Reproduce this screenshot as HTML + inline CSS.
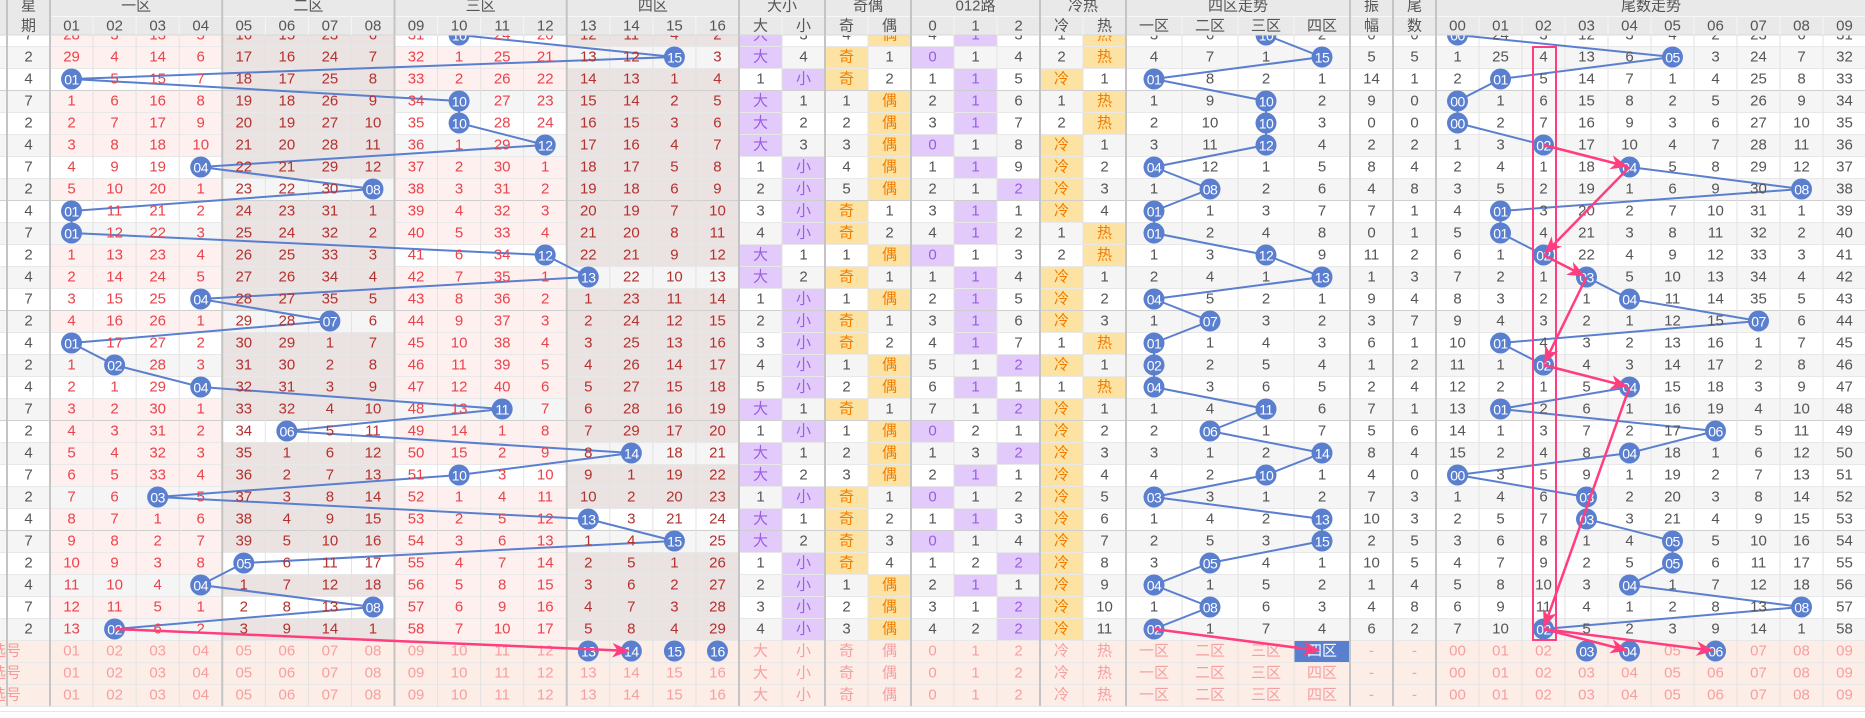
<!DOCTYPE html>
<html><head><meta charset="utf-8">
<style>
html,body{margin:0;padding:0;background:#fff;width:1865px;height:718px;overflow:hidden}
svg{display:block}
text{font-family:"Liberation Sans","Noto Sans CJK SC",sans-serif}
</style></head>
<body>
<div id="c"></div>
<script>
(function(){
const rows=[
"7 28 3 13 5 16 15 23 6 31 @ 24 20 12 11 4 2 大 3 4 偶 4 !1 3 1 热 3 6 @ 2 0 0 @ 24 3 12 3 4 2 23 6 31",
"2 29 4 14 6 17 16 24 7 32 1 25 21 13 12 @ 3 大 4 奇 1 !0 1 4 2 热 4 7 1 @ 5 5 1 25 4 13 6 @ 3 24 7 32",
"4 @ 5 15 7 18 17 25 8 33 2 26 22 14 13 1 4 1 小 奇 2 1 !1 5 冷 1 @ 8 2 1 14 1 2 @ 5 14 7 1 4 25 8 33",
"7 1 6 16 8 19 18 26 9 34 @ 27 23 15 14 2 5 大 1 1 偶 2 !1 6 1 热 1 9 @ 2 9 0 @ 1 6 15 8 2 5 26 9 34",
"2 2 7 17 9 20 19 27 10 35 @ 28 24 16 15 3 6 大 2 2 偶 3 !1 7 2 热 2 10 @ 3 0 0 @ 2 7 16 9 3 6 27 10 35",
"4 3 8 18 10 21 20 28 11 36 1 29 @ 17 16 4 7 大 3 3 偶 !0 1 8 冷 1 3 11 @ 4 2 2 1 3 @ 17 10 4 7 28 11 36",
"7 4 9 19 @ 22 21 29 12 37 2 30 1 18 17 5 8 1 小 4 偶 1 !1 9 冷 2 @ 12 1 5 8 4 2 4 1 18 @ 5 8 29 12 37",
"2 5 10 20 1 23 22 30 @ 38 3 31 2 19 18 6 9 2 小 5 偶 2 1 !2 冷 3 1 @ 2 6 4 8 3 5 2 19 1 6 9 30 @ 38",
"4 @ 11 21 2 24 23 31 1 39 4 32 3 20 19 7 10 3 小 奇 1 3 !1 1 冷 4 @ 1 3 7 7 1 4 @ 3 20 2 7 10 31 1 39",
"7 @ 12 22 3 25 24 32 2 40 5 33 4 21 20 8 11 4 小 奇 2 4 !1 2 1 热 @ 2 4 8 0 1 5 @ 4 21 3 8 11 32 2 40",
"2 1 13 23 4 26 25 33 3 41 6 34 @ 22 21 9 12 大 1 1 偶 !0 1 3 2 热 1 3 @ 9 11 2 6 1 @ 22 4 9 12 33 3 41",
"4 2 14 24 5 27 26 34 4 42 7 35 1 @ 22 10 13 大 2 奇 1 1 !1 4 冷 1 2 4 1 @ 1 3 7 2 1 @ 5 10 13 34 4 42",
"7 3 15 25 @ 28 27 35 5 43 8 36 2 1 23 11 14 1 小 1 偶 2 !1 5 冷 2 @ 5 2 1 9 4 8 3 2 1 @ 11 14 35 5 43",
"2 4 16 26 1 29 28 @ 6 44 9 37 3 2 24 12 15 2 小 奇 1 3 !1 6 冷 3 1 @ 3 2 3 7 9 4 3 2 1 12 15 @ 6 44",
"4 @ 17 27 2 30 29 1 7 45 10 38 4 3 25 13 16 3 小 奇 2 4 !1 7 1 热 @ 1 4 3 6 1 10 @ 4 3 2 13 16 1 7 45",
"2 1 @ 28 3 31 30 2 8 46 11 39 5 4 26 14 17 4 小 1 偶 5 1 !2 冷 1 @ 2 5 4 1 2 11 1 @ 4 3 14 17 2 8 46",
"4 2 1 29 @ 32 31 3 9 47 12 40 6 5 27 15 18 5 小 2 偶 6 !1 1 1 热 @ 3 6 5 2 4 12 2 1 5 @ 15 18 3 9 47",
"7 3 2 30 1 33 32 4 10 48 13 @ 7 6 28 16 19 大 1 奇 1 7 1 !2 冷 1 1 4 @ 6 7 1 13 @ 2 6 1 16 19 4 10 48",
"2 4 3 31 2 34 @ 5 11 49 14 1 8 7 29 17 20 1 小 1 偶 !0 2 1 冷 2 2 @ 1 7 5 6 14 1 3 7 2 17 @ 5 11 49",
"4 5 4 32 3 35 1 6 12 50 15 2 9 8 @ 18 21 大 1 2 偶 1 3 !2 冷 3 3 1 2 @ 8 4 15 2 4 8 @ 18 1 6 12 50",
"7 6 5 33 4 36 2 7 13 51 @ 3 10 9 1 19 22 大 2 3 偶 2 !1 1 冷 4 4 2 @ 1 4 0 @ 3 5 9 1 19 2 7 13 51",
"2 7 6 @ 5 37 3 8 14 52 1 4 11 10 2 20 23 1 小 奇 1 !0 1 2 冷 5 @ 3 1 2 7 3 1 4 6 @ 2 20 3 8 14 52",
"4 8 7 1 6 38 4 9 15 53 2 5 12 @ 3 21 24 大 1 奇 2 1 !1 3 冷 6 1 4 2 @ 10 3 2 5 7 @ 3 21 4 9 15 53",
"7 9 8 2 7 39 5 10 16 54 3 6 13 1 4 @ 25 大 2 奇 3 !0 1 4 冷 7 2 5 3 @ 2 5 3 6 8 1 4 @ 5 10 16 54",
"2 10 9 3 8 @ 6 11 17 55 4 7 14 2 5 1 26 1 小 奇 4 1 2 !2 冷 8 3 @ 4 1 10 5 4 7 9 2 5 @ 6 11 17 55",
"4 11 10 4 @ 1 7 12 18 56 5 8 15 3 6 2 27 2 小 1 偶 2 !1 1 冷 9 @ 1 5 2 1 4 5 8 10 3 @ 1 7 12 18 56",
"7 12 11 5 1 2 8 13 @ 57 6 9 16 4 7 3 28 3 小 2 偶 3 1 !2 冷 10 1 @ 6 3 4 8 6 9 11 4 1 2 8 13 @ 57",
"2 13 @ 6 2 3 9 14 1 58 7 10 17 5 8 4 29 4 小 3 偶 4 2 !2 冷 11 @ 1 7 4 6 2 7 10 @ 5 2 3 9 14 1 58"
];
const B=[7,50];
for(let k=1;k<=16;k++)B.push(50+k*43.0625);
[782,825,868,911,954,997,1040,1083,1126,1182,1238,1294,1350,1393,1436].forEach(v=>B.push(v));
for(let k=1;k<=10;k++)B.push(1436+k*43);
const cx=i=>(B[i]+B[i+1])/2;
const rtop=i=>24+22*i, cy=i=>35+22*i;
const pad=n=>(n<10?'0':'')+n;
const lab=['期'];for(let k=1;k<=16;k++)lab.push(pad(k));
lab.push('大','小','奇','偶','0','1','2','冷','热','一区','二区','三区','四区','幅','数');
for(let k=0;k<10;k++)lab.push(pad(k));
let bg='',tx='',ln='',balls='';
const T=(x,y,s,fill,size,extra)=>`<text x="${x}" y="${y}" fill="${fill}" font-size="${size||15}" text-anchor="middle" dominant-baseline="central"${extra||''}>${s}</text>`;
const ball=(x,y,s)=>`<circle cx="${x}" cy="${y}" r="10.5" fill="#5b7fcf"/>`+T(x,y+0.5,s,'#fff',14,' letter-spacing="-0.5"');
const pts={m:[],z:[],t:[]};
rows.forEach((r,i)=>{
  const tk=r.split(' ');
  const y=rtop(i),c=cy(i);
  const stripe=i%2?'#f5f5f5':'#ffffff';
  bg+=`<rect x="0" y="${y}" width="1866" height="22" fill="${stripe}"/>`;
  let bi=tk.indexOf('@');
  const bz=Math.floor((bi-1)/4);
  tk.forEach((v,j)=>{
    const x=cx(j);
    if(j===0){tx+=T(x,c,v,'#555');return;}
    if(j<=16){
      const z=Math.floor((j-1)/4);
      if(z!==bz)bg+=`<rect x="${B[j]}" y="${y}" width="${B[j+1]-B[j]}" height="22" fill="${z%2?'#ebe2e2':'#fff0f0'}"/>`;
      const col=z%2?'#b3312f':'#e8444c';
      if(v==='@'){pts.m.push([x,c]);balls+=ball(x,c,pad(j));}
      else tx+=T(x,c,v,col);
      return;
    }
    if(j>=17&&j<=25){
      let hit=false,s=v;
      if(v[0]==='!'){hit=true;s=v.slice(1);}
      else if(j!==21&&j!==22&&j!==23&&v===lab[j])hit=true;
      const purple=(j<=18)||(j>=21&&j<=23);
      if(hit){
        bg+=`<rect x="${B[j]}" y="${y}" width="${B[j+1]-B[j]}" height="22" fill="${purple?'#e2cafb':'#fde3a3'}"/>`;
        tx+=T(x,c,s,purple?'#9a5de3':'#f07c00');
      } else tx+=T(x,c,s,'#555');
      return;
    }
    if(j>=26&&j<=29){
      if(v==='@'){pts.z.push([x,c]);balls+=ball(x,c,pad(bi));}
      else tx+=T(x,c,v,'#555');
      return;
    }
    if(j>=32){
      if(v==='@'){pts.t.push([x,c]);balls+=ball(x,c,pad(j-32));}
      else tx+=T(x,c,v,'#555');
      return;
    }
    tx+=T(x,c,v,'#555');
  });
});
const fl=[];
for(let k=1;k<=16;k++)fl.push(pad(k));
fl.push('大','小','奇','偶','0','1','2','冷','热','一区','二区','三区','四区','-','-');
for(let k=0;k<10;k++)fl.push(pad(k));
for(let f=0;f<3;f++){
  const y=640+22*f,c=y+11;
  bg+=`<rect x="0" y="${y}" width="1866" height="22" fill="#fdede7"/>`;
  tx+=`<text x="21" y="${c}" fill="#f49a9a" font-size="15" text-anchor="end" dominant-baseline="central">选号</text>`;
  fl.forEach((s,k)=>{
    const j=k+1,x=cx(j);
    if(f===0&&(j>=13&&j<=16)){balls+=ball(x,c,s);return;}
    if(f===0&&j===29){bg+=`<rect x="${B[j]}" y="${y}" width="${B[j+1]-B[j]}" height="22" fill="#5b7fcf"/>`;tx+=T(x,c,s,'#fff');return;}
    if(f===0&&(j===35||j===36||j===38)){balls+=ball(x,c,s);return;}
    tx+=T(x,c,s,'#f4a0a0');
  });
}
for(let i=0;i<=31;i++){
  const y=24+22*i;
  const major=[3,8,13,18,23].includes(i);
  ln+=`<line x1="0" x2="1866" y1="${y+0.5}" y2="${y+0.5}" stroke="${major?'#cfcfcf':'#e8e8e8'}" stroke-width="1"/>`;
}
ln+=`<line x1="0" x2="1866" y1="711.5" y2="711.5" stroke="#e6e6e6"/>`;
const majorIdx=[0,1,5,9,13,17,19,21,24,26,30,31,32];
B.forEach((x,i)=>{
  const mj=majorIdx.includes(i);
  ln+=`<line x1="${x}" x2="${x}" y1="0" y2="706" stroke="${mj?'#c4c4c4':'#e2e2e2'}" stroke-width="${mj?2:1}"/>`;
});
let blue='';
['m','z','t'].forEach(k=>{blue+=`<polyline points="${pts[k].map(p=>p.join(',')).join(' ')}" fill="none" stroke="#5b7fcf" stroke-width="2"/>`;});
let hd=`<rect x="0" y="0" width="1866" height="35" fill="#e9e9e9"/><line x1="50" x2="1866" y1="16.5" y2="16.5" stroke="#f7f7f7"/><line x1="0" x2="1866" y1="35" y2="35" stroke="#d8d8d8"/>`;
const g=[[1,5,'一区'],[5,9,'二区'],[9,13,'三区'],[13,17,'四区'],[17,19,'大小'],[19,21,'奇偶'],[21,24,'012路'],[24,26,'冷热'],[26,30,'四区走势'],[30,31,'振'],[31,32,'尾'],[32,42,'尾数走势'],[0,1,'星']];
g.forEach(([a,b,s])=>{hd+=T((B[a]+B[b])/2,6,s,'#555',15);});
lab.forEach((s,j)=>{hd+=T(cx(j),26,s,'#555',15);});
B.forEach((x,i)=>{const mj=majorIdx.includes(i);
  const sub=(i>1&&!mj);
  hd+=`<line x1="${x}" x2="${x}" y1="${sub?16:0}" y2="35" stroke="${mj?'#c4c4c4':'#f5f5f5'}" stroke-width="${mj?2:1}"/>`;});
const P=[];
const add=(a,b)=>P.push([a,b]);
const tc=(k,i)=>[cx(32+k),cy(i)];
add([cx(2),cy(27)],[cx(14),651]);
add([cx(26),cy(27)],[cx(29),651]);
add(tc(2,5),tc(4,6));add(tc(4,6),tc(2,10));add(tc(2,10),tc(3,11));add(tc(3,11),tc(2,15));
add(tc(2,15),tc(4,16));add(tc(4,16),tc(2,27));add(tc(2,27),[cx(36),651]);add(tc(2,27),[cx(38),651]);
let pk=`<rect x="1533" y="47" width="23" height="593" fill="none" stroke="#ff3d7f" stroke-width="2"/>`;
P.forEach(([a,b])=>{
  const dx=b[0]-a[0],dy=b[1]-a[1],L=Math.hypot(dx,dy);
  const ex=b[0]-dx/L*3,ey=b[1]-dy/L*3;
  pk+=`<line x1="${a[0]}" y1="${a[1]}" x2="${ex}" y2="${ey}" stroke="#ff3d7f" stroke-width="2.5" marker-end="url(#ah)"/>`;
});
document.getElementById('c').innerHTML=`<svg width="1865" height="718" viewBox="0 0 1865 718" xmlns="http://www.w3.org/2000/svg">
<defs><marker id="ah" viewBox="0 0 12 10" refX="11" refY="5" markerWidth="7" markerHeight="6" orient="auto" markerUnits="strokeWidth"><path d="M0,0 L12,5 L0,10 L3.5,5 z" fill="#ff3d7f"/></marker></defs>
${bg}${ln}${blue}${tx}${balls}${pk}${hd}</svg>`;
})();
</script>
</body></html>
